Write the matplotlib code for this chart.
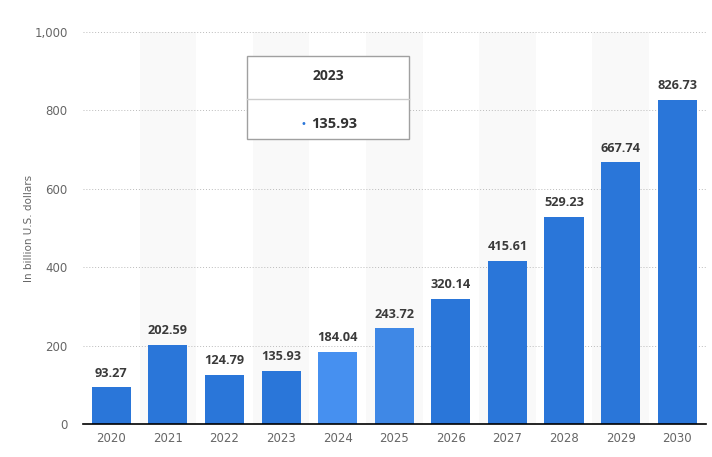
import matplotlib
matplotlib.use("Agg")
import matplotlib.pyplot as plt
from matplotlib.patches import Rectangle
from matplotlib.lines import Line2D
import numpy as np

years = ["2020", "2021", "2022", "2023", "2024", "2025", "2026", "2027", "2028", "2029", "2030"]
values = [93.27, 202.59, 124.79, 135.93, 184.04, 243.72, 320.14, 415.61, 529.23, 667.74, 826.73]
bar_colors = ["#2a76d9", "#2a76d9", "#2a76d9", "#2a76d9", "#4690f0", "#3f88e6",
              "#2a76d9", "#2a76d9", "#2a76d9", "#2a76d9", "#2a76d9"]
yticks = [0, 200, 400, 600, 800, 1000]
tooltip_year = "2023"
tooltip_value = 135.93

W, H = 712, 457
fig = plt.figure(figsize=(W / 100, H / 100), dpi=100)
ax = fig.add_axes([83 / W, 1 - 424 / H, (705.5 - 83) / W, (424 - 32) / H])

x = np.arange(len(years))
label_font = ["Open Sans", "DejaVu Sans"]

# light alternating stripes behind every second column
for i in x[1::2]:
    ax.axvspan(i - 0.5, i + 0.5, color="#f9f9f9", zorder=0, lw=0)

for t in yticks[1:]:
    ax.axhline(t, color="#bbbbbb", ls=(0, (1, 2)), lw=0.7, zorder=1)

bars = ax.bar(x, values, width=0.69, color=bar_colors, zorder=3)

for rect, v in zip(bars, values):
    ax.annotate("{:.2f}".format(v),
                xy=(rect.get_x() + rect.get_width() / 2, rect.get_height()),
                xytext=(0, 5.5), textcoords="offset points",
                ha="center", va="bottom", fontsize=9.2, fontweight="bold",
                family=label_font, color="#3a3a3a", zorder=4)

ax.set_xlim(-0.5, len(years) - 0.5)
ax.set_ylim(0, 1000)
ax.set_xticks(x)
ax.set_xticklabels(years)
ax.set_yticks(yticks)
ax.set_yticklabels(["{:,}".format(t) for t in yticks])
ax.tick_params(axis="both", length=0, labelsize=8.5, colors="#666666")
ax.tick_params(axis="x", pad=6)
ax.tick_params(axis="y", pad=11)
for s in ["top", "right", "left"]:
    ax.spines[s].set_visible(False)
ax.spines["bottom"].set_color("#000000")
ax.spines["bottom"].set_linewidth(1.2)
ax.spines["bottom"].set_zorder(5)

fig.text(29 / W, 1 - 228 / H, "In billion U.S. dollars", rotation=90,
         ha="center", va="center", fontsize=7.5, color="#666666")

# tooltip box
bx0, bx1, by0, by1, bdiv = 247, 409, 56, 139, 98.5
box = Rectangle((bx0 / W, 1 - by1 / H), (bx1 - bx0) / W, (by1 - by0) / H,
                transform=fig.transFigure, facecolor="white", edgecolor="#a0a0a0",
                lw=1, zorder=10)
fig.patches.append(box)
fig.lines.append(Line2D([bx0 / W, bx1 / W], [1 - bdiv / H, 1 - bdiv / H],
                        transform=fig.transFigure, color="#cccccc", lw=1, zorder=11))
fig.text((bx0 + bx1) / 2 / W, 1 - 76 / H, tooltip_year, ha="center", va="center",
         fontsize=10, fontweight="bold", family=label_font,
         color="#333333", zorder=12)
fig.text(334 / W, 1 - 124 / H, "{:.2f}".format(tooltip_value), ha="center", va="center",
         fontsize=10.5, fontweight="bold", family=label_font,
         color="#333333", zorder=12)
fig.text(303 / W, 1 - 124 / H, "\u2022", ha="center", va="center",
         fontsize=7, color="#2a76d9", zorder=12)

fig.savefig("out.png", dpi=100)
